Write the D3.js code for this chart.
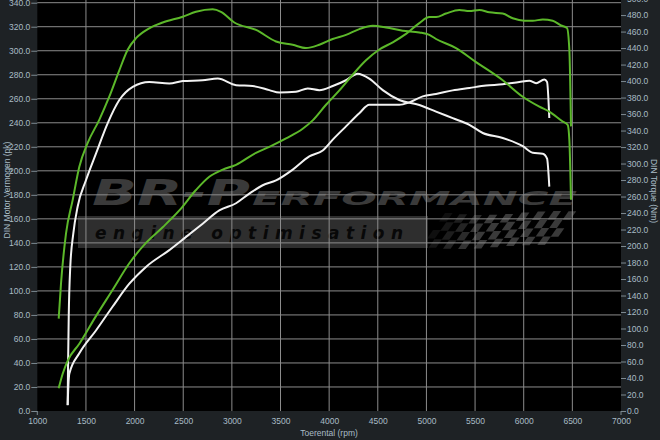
<!DOCTYPE html>
<html>
<head>
<meta charset="utf-8">
<script src="https://cdn.jsdelivr.net/npm/d3@7"></script>
<style>
  body { margin: 0; background: #1e2225; }
  svg { display: block; }
</style>
</head>
<body>
<svg id="chart" width="660" height="440"></svg>
<script>
// tick values
var rpmTicks = d3.range(1000, 7001, 500);
var pkTicks = d3.range(0, 341, 20);
var nmTicks = d3.range(0, 501, 20);

// tuned (green) torque, Nm
var tunedTorqueRpm = [1220,1244,1295,1364,1432,1518,1637,1740,1843,1929,2015,2151,2289,2495,2631,2803,2888,3025,3248,3454,3626,3762,3899,4037,4173,4310,4448,4585,4756,4927,5030,5099,5304,5510,5784,5990,6161,6263,6401,6452,6469,6486];
var tunedTorque = [112,155,215,256,296,325,353,381,413,438,452,464,471,478,484,487,484,471,462,448,444,440,444,451,456,463,467,465,461,459,456,451,440,423,401,381,369,363,351,347,329,256];

// tuned (green) power, pk
var tunedPowerRpm = [1220,1261,1313,1432,1603,1775,1946,2117,2289,2460,2631,2768,2906,3043,3248,3385,3557,3728,3831,3968,4105,4242,4379,4516,4654,4790,4927,5030,5099,5201,5338,5441,5544,5647,5784,5887,6006,6093,6196,6298,6384,6445,6469,6486];
var tunedPower = [19,31,42,56,79,101,123,140,153,167,184,195,201,205,215,220,227,235,242,255,267,280,292,301,307,314,323,328,328,331,334,333,334,332,331,327,325,325,326,325,321,319,301,237];

// stock (white) torque, Nm
var stockTorqueRpm = [1312,1316,1323,1339,1370,1415,1501,1603,1724,1843,1981,2151,2357,2495,2700,2855,3043,3214,3385,3488,3659,3780,3899,4037,4173,4294,4413,4551,4721,4927,5099,5270,5441,5579,5784,5990,6093,6196,6240,6263];
var stockTorque = [7,54,114,175,215,248,280,312,349,377,393,399,397,400,401,403,395,394,389,386,387,391,389,394,401,409,403,389,377,371,363,355,347,337,331,321,313,312,306,272];

// stock (white) power, pk
var stockPowerRpm = [1312,1320,1329,1432,1603,1775,1946,2117,2357,2529,2700,2871,3043,3179,3317,3454,3626,3796,3934,4037,4173,4310,4413,4551,4721,4824,4962,5099,5270,5441,5613,5784,5955,6058,6127,6212,6240,6263];
var stockPower = [5,22,31,48,67,87,106,120,134,145,156,167,173,181,188,192,201,212,217,226,237,248,255,255,255,257,262,264,267,269,271,272,274,275,273,276,274,244];

var plotLeft = 37.3, plotRight = 621, plotTop = 2.7, plotBottom = 411;
var textColor = "#a9bcc6";
var font = "'Liberation Sans', Arial, sans-serif";

var svg = d3.select("#chart");

var x = d3.scaleLinear().domain([1000, 7000]).range([plotLeft, plotRight]);
var yPk = d3.scaleLinear().domain([0, 340]).range([plotBottom, plotTop]);
var yNm = d3.scaleLinear().domain([0, 495]).range([plotBottom, plotTop]);

// plot background
svg.append("rect")
  .attr("x", plotLeft).attr("y", 0)
  .attr("width", plotRight - plotLeft).attr("height", plotBottom)
  .attr("fill", "#000");

// watermark logo
var logo = svg.append("g");
logo.append("rect")
  .attr("x", 78).attr("y", 216).attr("width", 350).attr("height", 32)
  .attr("fill", "#2e2e2e");

// checkered flag
var flag = logo.append("g").attr("transform", "translate(445,213) skewX(-35)");
var cell = 8.5;
d3.range(0, 17).forEach(function(i) {
  d3.range(0, 4).forEach(function(j) {
    if ((i + j) % 2 == 0) {
      var wave = Math.sin(i / 3) * 2;
      flag.append("rect")
        .attr("x", i * cell * 0.9)
        .attr("y", j * cell + wave)
        .attr("width", cell * 0.9).attr("height", cell)
        .attr("fill", "#3a3a3a")
        .attr("opacity", Math.min(1, 0.25 + i / 8));
    }
  });
});

logo.append("text")
  .attr("x", 92).attr("y", 205)
  .attr("font-family", "'DejaVu Sans', sans-serif")
  .attr("font-weight", "bold").attr("font-style", "italic")
  .attr("font-size", 36)
  .attr("textLength", 158).attr("lengthAdjust", "spacingAndGlyphs")
  .attr("fill", "#3a3a3a")
  .text("BR-P");
logo.append("text")
  .attr("x", 252).attr("y", 205)
  .attr("font-family", "'DejaVu Sans', sans-serif")
  .attr("font-weight", "bold").attr("font-style", "italic")
  .attr("font-size", 19)
  .attr("textLength", 325).attr("lengthAdjust", "spacingAndGlyphs")
  .attr("fill", "#3a3a3a")
  .text("ERFORMANCE");
logo.append("text")
  .attr("x", 95).attr("y", 239)
  .attr("font-family", "'DejaVu Sans', sans-serif")
  .attr("font-weight", "bold").attr("font-style", "italic")
  .attr("font-size", 17)
  .attr("textLength", 308).attr("lengthAdjust", "spacing")
  .attr("fill", "#080808")
  .text("engine optimisation");

// grid
var grid = svg.append("g").attr("stroke", "#8c8c8c").attr("stroke-width", 1);
grid.selectAll(".h").data(pkTicks.filter(function(d) { return d > 0; }))
  .enter().append("line")
    .attr("x1", plotLeft).attr("x2", plotRight)
    .attr("y1", function(d) { return yPk(d); })
    .attr("y2", function(d) { return yPk(d); });
grid.selectAll(".v").data(rpmTicks.filter(function(d) { return d > 1000 && d < 7000; }))
  .enter().append("line")
    .attr("x1", function(d) { return x(d); })
    .attr("x2", function(d) { return x(d); })
    .attr("y1", 0).attr("y2", plotBottom);

// axes
function styleAxis(g) {
  g.select(".domain").remove();
  g.selectAll(".tick line").attr("stroke", "#7d8a92");
  g.selectAll(".tick text")
    .attr("fill", textColor)
    .attr("font-family", font)
    .attr("font-size", 8.5);
}

svg.append("g")
  .attr("transform", "translate(" + plotLeft + ",0)")
  .call(d3.axisLeft(yPk).tickValues(pkTicks).tickFormat(d3.format(".1f")).tickSize(6).tickPadding(1))
  .call(styleAxis);

svg.append("g")
  .attr("transform", "translate(" + plotRight + ",0)")
  .call(d3.axisRight(yNm).tickValues(nmTicks).tickFormat(d3.format(".1f")).tickSize(5).tickPadding(1))
  .call(styleAxis);

svg.append("g")
  .attr("transform", "translate(0," + plotBottom + ")")
  .call(d3.axisBottom(x).tickValues(rpmTicks).tickFormat(d3.format("d")).tickSize(0).tickPadding(7))
  .call(styleAxis);

// end ticks on the rpm axis
svg.selectAll(".endtick").data([1000, 7000])
  .enter().append("line")
    .attr("x1", function(d) { return x(d); })
    .attr("x2", function(d) { return x(d); })
    .attr("y1", plotBottom).attr("y2", plotBottom + 4)
    .attr("stroke", "#7d8a92");

// axis titles
svg.append("text")
  .attr("x", 329).attr("y", 436)
  .attr("text-anchor", "middle")
  .attr("fill", textColor).attr("font-family", font).attr("font-size", 8.5)
  .text("Toerental (rpm)");
svg.append("text")
  .attr("transform", "translate(9.5,190) rotate(-90)")
  .attr("text-anchor", "middle")
  .attr("fill", textColor).attr("font-family", font).attr("font-size", 8.5)
  .text("DIN Motor Vermogen (pk)");
svg.append("text")
  .attr("transform", "translate(651,191) rotate(90)")
  .attr("text-anchor", "middle")
  .attr("fill", textColor).attr("font-family", font).attr("font-size", 8.5)
  .text("DIN Torque (Nm)");

// curves
function drawCurve(rpms, values, yScale, color) {
  var pts = rpms.map(function(r, i) { return [r, values[i]]; });
  var line = d3.line()
    .x(function(d) { return x(d[0]); })
    .y(function(d) { return yScale(d[1]); })
    .curve(d3.curveMonotoneX);
  svg.append("path")
    .datum(pts)
    .attr("d", line)
    .attr("fill", "none")
    .attr("stroke", color)
    .attr("stroke-width", 2)
    .attr("stroke-linejoin", "round");
}

drawCurve(stockPowerRpm, stockPower, yPk, "#f2f2f2");
drawCurve(stockTorqueRpm, stockTorque, yNm, "#f2f2f2");
drawCurve(tunedPowerRpm, tunedPower, yPk, "#5cb82a");
drawCurve(tunedTorqueRpm, tunedTorque, yNm, "#5cb82a");
</script>
</body>
</html>
